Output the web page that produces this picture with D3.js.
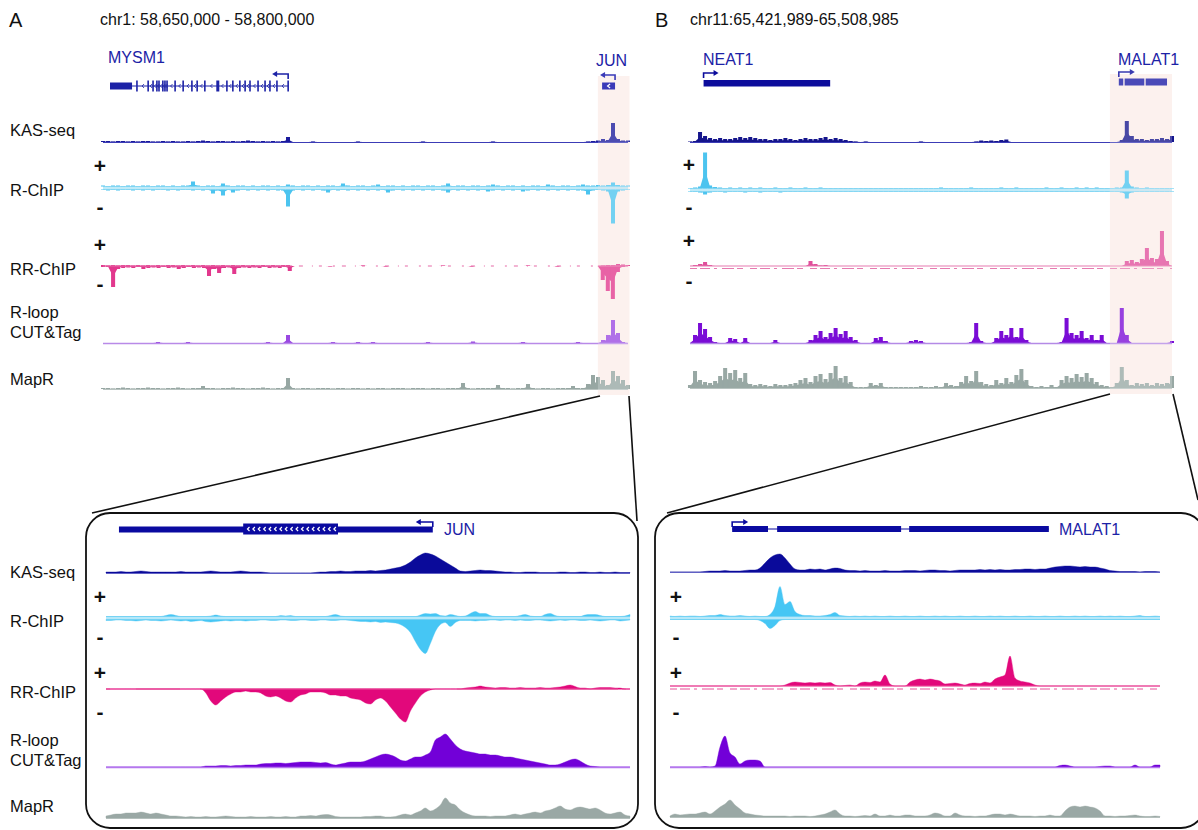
<!DOCTYPE html>
<html><head><meta charset="utf-8">
<script src="https://cdn.jsdelivr.net/npm/d3@7"></script>
<style>body{margin:0;background:#fff}svg text{font-family:"Liberation Sans",Arial,Helvetica,sans-serif}</style>
</head><body><svg id="chart"></svg>
<script>
// ===================== DATA =====================
const panelLetters = ["A","B"];
const regionLabels = ["chr1: 58,650,000 - 58,800,000","chr11:65,421,989-65,508,985"];
const trackLabels = ["KAS-seq","R-ChIP","RR-ChIP","R-loop","CUT&Tag","MapR"];
const spanA = 150, spanB = 87, spanZA = 5.5, spanZB = 13.4; // kb

// Panel A overview (chr1, 5px bins)
const kasA=[1,1,.5,1,1,.5,1,.5,1,1,.5,.5,1,.5,1,.5,.5,1,.5,1,1.5,1,.5,1,1,.5,1,.5,1,1.5,1,.5,1,.5,1,.5,1,5,0,0,0,0,.5,0,0,0,0,0,0,0,0,.5,0,0,0,0,0,0,0,0,0,0,0,0,.5,0,0,0,0,0,0,0,0,0,0,0,0,0,.5,0,0,0,0,0,0,0,0,0,0,0,0,0,0,0,0,0,0,.5,1,1.5,3,2,19,3,1.5,1.5];
const rchipA_plus=[1,.5,1,1,.5,1,1,.5,1,1,.5,1,1,.5,1,.5,1,1,5,1,.5,1,1,.5,3,1,.5,1,1,.5,1,.5,1,1,.5,1,.5,2,1,.5,1,1,.5,1,.5,1,1,.5,3,1,.5,1,1,.5,1,2,.5,1,1,.5,1,.5,1,1,.5,1,1,.5,1,3,.5,1,1,.5,1,1,.5,1,2,1,.5,1,1,.5,1,.5,1,1,.5,2,1,.5,1,1,.5,1,2,1,1,1.5,1,1.5,4,1.5,1,1];
const rchipA_minus=[.5,1,.5,1,.5,.5,1,.5,1,.5,1,.5,.5,1,.5,1,.5,.5,1,.5,1,.5,4,1,6,.5,3,1,.5,1,.5,1,.5,1,.5,1,1,17,1,.5,1,.5,1,.5,1,3,.5,1,.5,1,.5,1,.5,1,.5,1,.5,3,1,.5,1,.5,1,.5,1,.5,1,.5,1,3,.5,1,.5,1,.5,1,.5,2,1,.5,1,.5,1,.5,2,1,.5,1,.5,1,.5,1,.5,1,.5,1,1,5,1,.5,1,2,34,2,1,.5];
const rrchipA_plus=[1,.5,1,.5,1,1,.5,1,.5,1,.5,1,.5,1,1,.5,1,.5,1,.5,1,.5,1,.5,1,.5,1,.5,1,.5,1,.5,1,.5,1,.5,1,1,0,0,0,0,0,0,0,0,0,0,0,0,0,0,.5,0,0,0,0,0,0,0,0,0,0,0,0,0,0,0,.5,0,0,0,0,0,0,0,0,0,0,0,0,0,0,0,0,.5,0,0,0,0,0,0,0,0,0,0,0,0,0,0,.5,1,1,2,1.5,1];
const rrchipA_minus=[1,1,21,3,2,1.5,2,1,3,2,1.5,2,1,2,1.5,3,2,1,2,1.5,2,10,3,7,2,1.5,8,2,1.5,2,1.5,2,1,2,1.5,2,1,5,0,0,0,0,0,0,0,.5,0,0,0,0,0,0,0,0,0,0,.5,0,0,0,0,0,0,0,0,0,0,0,0,0,0,0,0,.5,0,0,0,0,0,0,0,0,0,0,0,0,0,0,0,0,.5,0,0,0,0,0,0,0,0,14,25,33,6,1,0];
const rloopA=[0,0,0,0,0,0,0,0,0,0,0,1,0,0,0,0,0,1,0,0,0,0,0,0,0,0,0,0,0,0,0,0,0,1,0,0,0,8,0,0,0,0,0,0,0,0,1,0,0,0,0,1,0,0,1,0,0,0,0,0,0,0,0,0,0,1,0,0,0,0,0,0,0,0,1.5,0,0,0,0,0,0,0,0,0,1,0,0,0,0,0,0,0,0,0,0,1,0,0,0,0,3,8,23,10,1,0];
const maprA=[1,1,.5,1,1.5,1,.5,1,1,1.5,1,1,.5,1,1,1.5,1,.5,1,1,3,1,1,.5,1,1,1.5,1,1,.5,1,1,1.5,1,.5,1,1,11,1,.5,1,1,.5,1,1,1,.5,1,1,.5,1,1,.5,1,.5,1,1,.5,1,1,1,.5,1,1,1,.5,1,1,.5,1,1,1,6,1,.5,1,1,1,1,4,1,1,.5,1,1,5,1,.5,1,1,.5,1,1,1,3,1,1,5,14,12,9,4,18,13,9,4];

// Panel B overview (chr11, 5px bins)
const kasB=[.5,1,10,6,4,3,4,3,3,4,5,4,5,4,3,3,2,3,3,4,3,2,3,4,3,3,4,5,3,4,3,2,1,.5,0,.5,0,0,0,0,0,0,0,0,0,0,.5,0,0,0,0,0,0,0,0,0,0,.5,1.5,1,1.5,1,2,2.5,0,0,0,0,0,0,0,0,0,0,0,0,0,0,0,0,0,0,0,0,0,0,2,21,6,3,3,2,3,3,4,3,6];
const rchipB_plus=[.5,1,2,36,3,1.5,1,.5,1,.5,1,.5,1,.5,1,.5,.5,1,.5,.5,1,.5,.5,1,.5,.5,1,.5,.5,.5,.5,.5,.5,.5,.5,.5,.5,.5,.5,.5,.5,.5,.5,.5,.5,.5,.5,.5,.5,.5,1,.5,.5,.5,.5,.5,1,.5,.5,.5,.5,.5,1,.5,.5,1,.5,.5,.5,.5,.5,1,.5,.5,1,.5,.5,1,.5,1,.5,1,.5,.5,.5,1,1,18,2,1,.5,1,.5,.5,.5,.5,.5];
const rchipB_minus=[.5,.5,1,3,1,.5,.5,1,.5,.5,.5,1,.5,.5,1,.5,.5,.5,1,.5,.5,.5,.5,.5,.5,.5,.5,.5,.5,.5,.5,.5,.5,.5,.5,.5,.5,.5,.5,.5,.5,.5,.5,.5,.5,.5,.5,.5,.5,.5,.5,.5,.5,.5,.5,.5,.5,.5,.5,.5,.5,.5,.5,.5,.5,.5,.5,.5,.5,.5,.5,.5,.5,.5,.5,.5,.5,.5,.5,.5,.5,.5,.5,.5,.5,.5,1,7,1,.5,.5,.5,.5,.5,.5,.5,.5];
const rrchipB_plus=[0,1,2,4,1,0,0,0,0,0,0,0,0,0,0,0,0,0,0,0,0,0,0,0,5,2,.5,1,0,0,0,0,0,0,0,0,0,0,0,0,0,0,0,0,0,0,0,0,0,0,0,0,0,0,0,0,0,0,0,0,0,0,0,0,0,0,0,0,0,0,0,0,0,0,0,0,0,0,0,0,0,0,0,0,0,0,0,5,6,4,7,18,8,7,35,5,0];
const rloopB=[0,8,20,14,6,1,0,0,5,4,0,5,0,0,0,0,0,3,0,0,0,0,0,0,3,8,12,6,10,15,9,12,6,3,0,0,0,5,6,2,0,0,0,0,2,3,2,0,0,0,0,0,0,0,0,0,1,20,2,0,0,5,12,8,15,6,15,3,0,0,0,0,0,0,1,25,10,8,12,5,8,3,8,0,0,0,35,8,0,0,0,0,0,0,0,0,2];
const maprB=[3,17,8,6,5,7,12,20,15,18,10,15,4,3,4,3,2,4,3,3,4,5,8,10,6,12,14,9,15,22,10,12,6,1,1,1,5,3,5,1,1,1,1,1,1,1,2,1,1,2,1,5,3,2,6,12,7,17,6,4,3,8,5,10,6,13,19,8,2,1,2,1,3,1,8,12,10,14,11,15,10,6,3,2,1,5,21,8,3,5,4,5,3,5,4,5,12];

// Zoom A (JUN locus)
const kasZA=[1,1,1,1.5,1,1,1.5,2,1.5,1,1,1,1,1,1,1.5,1,1,1,1,1.5,2,1.5,1,1,1,1.5,2,1.5,1,1,1,.5,0,0,0,0,0,0,0,0,0,.5,1,1,1.5,1.5,2,1.5,1.5,2,2,2,2.5,2,2.5,3,4,5,6,8,11,15,18,20,19,17,14,11,8,5,2,1.5,2,2.5,3,2.5,2.5,2,1.5,1,1,.5,.5,1,1,1,.5,.5,.5,.5,1,1,.5,.5,1,1,.5,.5,1,.5,.5,1,.5,.5,.5];
const rchipZA_plus=[0,0,0,0,0,0,0,0,0,0,0,0,1,2,1,0,0,0,0,0,0,.5,1.5,.5,0,0,0,0,0,0,0,0,0,0,0,1,.5,1,0,0,0,0,0,0,0,1,2,.5,0,0,0,0,0,0,0,0,0,0,0,0,0,0,0,1.5,3,2.5,3,1,.5,2,1,0,.5,3,5,3,3,1,0,0,0,0,0,1,2,.5,0,0,2,3,1,0,0,0,0,0,1.5,2,2,1,0,0,0,0,.5,2];
const rchipZA_minus=[1,1,.5,.5,1,1,1.5,1,.5,1,1,1.5,1,.5,1,1.5,1,2,1.5,1,2,2.5,2,1.5,1,1.5,1,1,1.5,1,1,.5,.5,1,1,.5,.5,1,1,.5,.5,1,1,.5,.5,1,1,.5,.5,1,1.5,2,2,2.5,2,3,2.5,3,3.5,5,8,13,22,30,34,24,12,5,3,7,3,1,1,1,1.5,1,1,.5,.5,1,.5,.5,1,.5,1,1,.5,.5,1,1.5,1,.5,1,.5,.5,1,1,.5,1,1.5,1,.5,.5,1.5,1,.5];
const rrchipZA_plus=[0,0,0,0,0,0,0,0,0,0,0,0,0,0,0,0,0,0,0,0,0,0,0,0,0,0,0,0,0,0,0,0,0,0,0,0,0,0,0,0,0,0,0,0,0,0,0,0,0,0,0,0,0,0,0,0,0,0,0,0,0,0,0,0,0,0,0,0,0,0,0,0,1,1.5,2,3,2,1.5,1,1.5,1.5,1,1,1.5,1,1,1,1.5,1,1,1.5,2,3,4,2.5,1,1,0,1,1.5,1.5,1.5,1,1,0,0];
const rrchipZA_minus=[0,0,0,0,0,0,0,0,0,0,0,0,0,0,0,0,0,0,0,0,4,12,16,12,8,5,3,3,2,3,3,4,7,8,7,9,12,13,9,6,5,3,3,3,4,6,6,7,7,9,10,11,14,15,11,9,12,18,24,30,33,22,14,7,3,1,0,0,0,0,0,0,0,0,0,0,0,0,0,0,0,0,0,0,0,0,0,0,0,0,0,0,0,0,0,0,0,0,0,0,0,0,0,0,0,0];
const rloopZA=[0,0,0,0,0,0,0,0,0,0,0,0,0,0,0,0,0,0,0,0,1,1,1,1.5,1.5,1,1.5,1.5,2,2,2,3,3.5,3.5,4,4,3.5,4,4.5,5,5,5,4.5,4,4.5,3,2,3,4,5,5,5,6,8,10,12,13,12,10,7,6,8,10,10,12,15,27,30,33,28,22,18,16,15,14,13,13,12,12,11,10,10,9,8,7,6,5,4,3,2,2,3,5,7,8,6,3,1,.5,0,0,0,0,0,0,0];
const maprZA=[2,3,4,4,5,5,5,6,5,4,5,4,3,2,2,1.5,1,1.5,1,1,1.5,1,1,1.5,2,1.5,1,1,1,1.5,1,1,1,1.5,1,1,1.5,1,1,2,2,2.5,2,3,3.5,3,1.5,1,1,1,1,1,1.5,1.5,2,2,1,1,1.5,3,4,3,5,7,10,7,9,13,20,15,13,8,5,3,2,2,2,1.5,2,2,2,3,4,3,4,5,6,5,7,8,10,12,9,8,10,11,10,9,10,8,5,4,5,6,3,2];

// Zoom B (MALAT1 locus)
const kasZB=[0,0,0,0,0,0,0,.5,1,1,1,1.5,1,1,1,1.5,2,2,4,9,14,17,18,14,8,3,2,2,3,2.5,3,2,3,4,3.5,2,1.5,1.5,1,1.5,1,1,1,1.5,1,1,1,1.5,1.5,1.5,1,1.5,2,2,1.5,1.5,1,1.5,2,2,2,2,2.5,2,2.5,2,2.5,2,2,2.5,2.5,3,3,2.5,3,3,4,5,5.5,6,6,5.5,5,5.5,5,5,4,3,1.5,1,.5,.5,.5,.5,0,.5,.5,.5,0];
const rchipZB_plus=[.5,0,.5,0,.5,.5,0,.5,1,1,2,1,.5,.5,1,.5,0,.5,0,0,2,10,30,12,15,5,2,1,1,.5,.5,1,2,4,1,.5,0,.5,0,.5,0,.5,0,0,.5,0,0,.5,0,0,.5,0,0,.5,0,.5,0,0,.5,0,0,.5,0,0,.5,0,.5,0,0,.5,0,0,.5,0,0,.5,0,0,.5,0,0,.5,0,.5,0,0,.5,0,.5,0,.5,0,0,.5,1,0,0,.5,0];
const rchipZB_minus=[0,0,0,0,0,0,0,0,0,0,0,0,0,0,0,0,0,0,1,4,9,6,1,0,0,0,0,0,0,0,0,0,0,0,0,0,0,0,0,0,0,0,0,0,0,0,0,0,0,0,0,0,0,0,0,0,0,0,0,0,0,0,0,0,0,0,0,0,0,0,0,0,0,0,0,0,0,0,0,0,0,0,0,0,0,0,0,0,0,0,0,0,0,0,0,0,0,0,0];
const rrchipZB_plus=[0,0,0,0,0,0,0,0,0,0,0,0,0,0,0,0,0,0,0,0,0,0,0,1,3,4,3.5,3,3.5,3,3.5,3,3.5,1,0,.5,1,0,3,4,3.5,5,4,11,2,0,0,0,4,6,7,6,7,6,5,2,2.5,3,2,1,2.5,3,2.5,4,3,7,9,11,30,8,5,4,3,1,0,0,0,0,0,0,0,0,0,0,0,0,0,0,0,0,0,0,0,0,0,0,0,0,0];
const rloopZB=[0,0,0,0,0,0,0,.5,0,1,20,31,14,10,3,6,7,7,6,0,0,0,0,0,0,0,0,0,0,0,0,0,0,0,0,0,0,0,0,0,0,0,0,0,0,0,0,0,0,0,0,0,0,0,0,0,0,0,0,0,0,0,0,0,0,0,0,0,0,0,0,0,0,0,0,0,0,0,1.5,2,1,0,0,0,0,0,.5,1,1,0,0,0,0,2,0,0,0,2,2];
const maprZB=[1,3,2,2.5,3,3,4,5,3,6,10,13,17,12,8,4,3,2,1.5,1,1,1,1,1,.5,1,1,1,.5,1,2,3,5,7,3,1,1,.5,1,1.5,1,3,1,1,2,1,1,2,2,1,1,1,2,4,3,1,1,4,2,1,1,.5,1,1,2,3,3,2,3,2,1,1,1,.5,1,1,2,1,1,6,10,11,10,11,10,9,6,1,1,.5,1,1,1.5,2,1,.5,.5,1,.5];

// Gene models (kb within each window)
const mysm1 = {label:"MYSM1", utr:[2.0,8.3], span:[2.0,52.9], exons:[9.7,12.9,14.3,15.4,16.0,17.1,17.7,18.3,20.6,22.9,25.4,26.9,29.1,32.6,35.4,37.1,39.1,40.6,42.0,44.3,46.3,47.7,49.7,52.9]};
const junTop = {label:"JUN", block:[142.6,146.3]};
const neat1 = {label:"NEAT1", block:[2.45,25.3]};
const malat1Top = {label:"MALAT1", blocks:[[77.4,78.2],[78.45,82.0],[82.25,86.1]]};
const junZoom = {label:"JUN", utr:[0.136,3.43], cds:[1.44,2.435]};
const malat1Zoom = {label:"MALAT1", blocks:[[1.70,2.68],[2.93,6.32],[6.54,10.36]]};
const highlightA = [141.4,150.4], highlightB = [75.8,87];
const rrGapA = [53.4,141.4];

// ===================== DRAWING =====================
const svg = d3.select("#chart").attr("width",1198).attr("height",830);
const geneCol = "#1c22a6";

function txt(x,y,s,size,col,anchor,weight){
  return svg.append("text").attr("x",x).attr("y",y).text(s).attr("font-size",size)
    .attr("fill",col||"#111").attr("text-anchor",anchor||"start").attr("font-weight",weight||"normal");
}
const ySig = d3.scaleLinear().domain([0,40]).range([0,40]);

// overview tracks: each bin is drawn as a narrow bar (bigwig style); zoom tracks: smooth area
function drawTrack(g, xs, span, vals, base, dir, color, mode){
  const n = vals.length, step = span/(n-1);
  if(mode==="bars"){
    const bw = Math.abs(xs(step)-xs(0));
    const area = d3.area().x((d,i)=>xs(i*step)).y0(base).y1(d=>base-dir*ySig(d)*0.5).curve(d3.curveLinear);
    g.append("path").datum(vals).attr("d",area).attr("fill",color);
    g.append("g").selectAll("rect").data(vals).join("rect")
      .attr("x",(d,i)=>xs(i*step)-bw*0.4).attr("width",bw*0.8)
      .attr("y",d=>dir>0?base-ySig(d):base).attr("height",d=>ySig(d))
      .attr("fill",color);
  } else {
    const area = d3.area().x((d,i)=>xs(i*step)).y0(base).y1(d=>base-dir*ySig(d)).curve(d3.curveMonotoneX);
    g.append("path").datum(vals).attr("d",area).attr("fill",color).attr("stroke",color).attr("stroke-width",0.4);
  }
}
function hline(g,x0,x1,y,col,w,dash){
  const l=g.append("line").attr("x1",x0).attr("x2",x1).attr("y1",y).attr("y2",y).attr("stroke",col).attr("stroke-width",w||1);
  if(dash) l.attr("stroke-dasharray",dash);
  return l;
}
function arrow(g,x,y0,len,dir,col){
  const yt=y0-5, tip=x+dir*len;
  g.append("path").attr("d",`M${x},${y0}V${yt}H${tip-dir*2}`).attr("fill","none").attr("stroke",col).attr("stroke-width",1.6);
  g.append("path").attr("d",`M${tip},${yt}L${tip-dir*5},${yt-3}L${tip-dir*5},${yt+3}Z`).attr("fill",col);
}

function panel(cfg){
  const g = svg.append("g");
  const xs = d3.scaleLinear().domain([0,cfg.span]).range([cfg.x0,cfg.x1]);
  const c = cfg.col, b = cfg.base, m = cfg.mode;
  if(cfg.hl){ g.append("rect").attr("x",xs(cfg.hl[0])).attr("y",cfg.hlY[0]).attr("width",xs(cfg.hl[1])-xs(cfg.hl[0])).attr("height",cfg.hlY[1]-cfg.hlY[0]).attr("fill","#fcede9"); }
  drawTrack(g,xs,cfg.span,cfg.kas,b[0],1,c.kas,m);
  hline(g,cfg.x0,cfg.x1,b[0]+0.5,c.kasB,1);
  drawTrack(g,xs,cfg.span,cfg.rcP,b[1]-1.5,1,c.rc,m);
  drawTrack(g,xs,cfg.span,cfg.rcM,b[1]+1.5,-1,c.rc,m);
  hline(g,cfg.x0,cfg.x1,b[1]-1.2,c.rcB,1.2); hline(g,cfg.x0,cfg.x1,b[1]+1.2,c.rcB,1.2);
  if(cfg.rrP) drawTrack(g,xs,cfg.span,cfg.rrP,b[2],1,c.rr,m);
  if(cfg.rrM) drawTrack(g,xs,cfg.span,cfg.rrM,b[2],-1,c.rr,m);
  if(cfg.rrGap){
    hline(g,cfg.x0,xs(cfg.rrGap[0]),b[2],c.rrB,1.2);
    hline(g,xs(cfg.rrGap[0]),xs(cfg.rrGap[1]),b[2],c.rrB,1.2,"2,7,4,9,1,6,3,11");
    hline(g,xs(cfg.rrGap[1]),cfg.x1,b[2],c.rrB,1.2);
  } else {
    hline(g,cfg.x0,cfg.x1,b[2],c.rrB,1.2, cfg.rrDash||null);
  }
  if(cfg.rrUnder) hline(g,cfg.x0,cfg.x1,b[2]+cfg.rrUnder,c.rrB,1,"7,3,10,4,3,5,12,3,6,7");
  drawTrack(g,xs,cfg.span,cfg.rl,b[3],1,c.rl,m);
  hline(g,cfg.x0,cfg.x1,b[3]+0.5,c.rlB,1.5);
  drawTrack(g,xs,cfg.span,cfg.mr,b[4],1,c.mr,m);
  hline(g,cfg.x0,cfg.x1,b[4]+0.5,c.mrB,1);
  if(cfg.hl){ g.append("rect").attr("x",xs(cfg.hl[0])).attr("y",cfg.hlY[0]).attr("width",xs(cfg.hl[1])-xs(cfg.hl[0])).attr("height",cfg.hlY[1]-cfg.hlY[0]).attr("fill","#fff").attr("opacity",0.22); }
  return {g,xs};
}

const topColsA = {kas:"#1a1a9c",kasB:"#3c3cb6",rc:"#4cc4ef",rcB:"#80d5f2",rr:"#e2388d",rrB:"#e66aa7",rl:"#9a48e2",rlB:"#b98ae8",mr:"#97a7a3",mrB:"#b8c3c0"};
const topColsB = {kas:"#15158c",kasB:"#3c3cb6",rc:"#4cc4ef",rcB:"#80d5f2",rr:"#e04f9b",rrB:"#e67ab0",rl:"#7a0cd6",rlB:"#b48ae6",mr:"#98a8a4",mrB:"#b8c3c0"};
const zoomCols = {kas:"#0a0a9a",kasB:"#6060c4",rc:"#46c6f4",rcB:"#6fd1f3",rr:"#e2087b",rrB:"#e8509a",rl:"#7200d8",rlB:"#b577ee",mr:"#9aa8a5",mrB:"#b4bfbc"};

const pA = panel({x0:103,x1:628,span:spanA,base:[142,188,266,343,389],kas:kasA,rcP:rchipA_plus,rcM:rchipA_minus,rrP:rrchipA_plus,rrM:rrchipA_minus,rl:rloopA,mr:maprA,col:topColsA,mode:"bars",hl:highlightA,hlY:[76,395],rrGap:rrGapA});
const pB = panel({x0:690,x1:1172,span:spanB,base:[142,190,266,343,388],kas:kasB,rcP:rchipB_plus,rcM:rchipB_minus,rrP:rrchipB_plus,rrM:null,rl:rloopB,mr:maprB,col:topColsB,mode:"bars",hl:highlightB,hlY:[74,394],rrUnder:2.5});
const zA = panel({x0:106,x1:630,span:spanZA,base:[573,618,689,767,818],kas:kasZA,rcP:rchipZA_plus,rcM:rchipZA_minus,rrP:rrchipZA_plus,rrM:rrchipZA_minus,rl:rloopZA,mr:maprZA,col:zoomCols,mode:"area",rrDash:"4,26,44,20,230,27,161,4"});
const zB = panel({x0:670,x1:1160,span:spanZB,base:[572,618,686,767,817],kas:kasZB,rcP:rchipZB_plus,rcM:rchipZB_minus,rrP:rrchipZB_plus,rrM:null,rl:rloopZB,mr:maprZB,col:zoomCols,mode:"area",rrUnder:3});

// ---- Gene models ----
(function(){
  const g=pA.g, xs=pA.xs, yc=86;
  g.append("rect").attr("x",xs(mysm1.utr[0])).attr("y",yc-3.5).attr("width",xs(mysm1.utr[1])-xs(mysm1.utr[0])).attr("height",7).attr("fill",geneCol);
  hline(g,xs(mysm1.utr[1]),xs(mysm1.span[1]),yc,geneCol,1);
  mysm1.exons.forEach((e,i)=>{ g.append("rect").attr("x",xs(e)-0.8).attr("y",yc-5.5).attr("width",i===13?3:1.6).attr("height",11).attr("fill",geneCol); });
  for(let k=0;k<mysm1.exons.length-1;k++){
    const m=(xs(mysm1.exons[k])+xs(mysm1.exons[k+1]))/2;
    g.append("path").attr("d",`M${m+1.5},${yc-2}L${m-0.5},${yc}L${m+1.5},${yc+2}`).attr("fill","none").attr("stroke",geneCol).attr("stroke-width",0.8);
  }
  arrow(g,xs(mysm1.span[1]),79,16,-1,geneCol);
  txt(108,63,mysm1.label,16,geneCol);
  const jx0=xs(junTop.block[0]), jx1=xs(junTop.block[1]);
  g.append("rect").attr("x",jx0).attr("y",yc-3.5).attr("width",jx1-jx0).attr("height",7).attr("fill","#3a3ab8");
  g.append("path").attr("d",`M${(jx0+jx1)/2+1.5},${yc-2}L${(jx0+jx1)/2-1},${yc}L${(jx0+jx1)/2+1.5},${yc+2}`).attr("fill","none").attr("stroke","#fff").attr("stroke-width",1.2);
  arrow(g,jx1,80,15,-1,"#3a3ab8");
  txt(596,66,junTop.label,16,geneCol);
})();
(function(){
  const g=pB.g, xs=pB.xs;
  g.append("rect").attr("x",xs(neat1.block[0])).attr("y",80).attr("width",xs(neat1.block[1])-xs(neat1.block[0])).attr("height",6.5).attr("fill","#0c0c9c");
  arrow(g,xs(neat1.block[0]),78,15,1,"#0c0c9c");
  txt(703,65,neat1.label,16,geneCol);
  malat1Top.blocks.forEach(bk=>{ g.append("rect").attr("x",xs(bk[0])).attr("y",78.5).attr("width",xs(bk[1])-xs(bk[0])).attr("height",7).attr("fill","#4a4ab8"); });
  arrow(g,xs(malat1Top.blocks[0][0]),77,16,1,"#3a3ab0");
  txt(1118,65,malat1Top.label,16,geneCol);
})();
(function(){
  const g=zA.g, xs=zA.xs;
  const zg="#0a0aa0";
  g.append("rect").attr("x",xs(junZoom.utr[0])).attr("y",526.5).attr("width",xs(junZoom.utr[1])-xs(junZoom.utr[0])).attr("height",6).attr("fill",zg);
  const c0=xs(junZoom.cds[0]), c1=xs(junZoom.cds[1]);
  g.append("rect").attr("x",c0).attr("y",523.5).attr("width",c1-c0).attr("height",11).attr("fill",zg);
  for(let x=c0+5;x<c1-3;x+=5.4){
    g.append("path").attr("d",`M${x+1.3},${527}L${x-0.7},${529}L${x+1.3},${531}`).attr("fill","none").attr("stroke","#fff").attr("stroke-width",1.2);
  }
  arrow(g,xs(junZoom.utr[1]),527,17,-1,zg);
  txt(444,535,junZoom.label,16,geneCol);
})();
(function(){
  const g=zB.g, xs=zB.xs;
  const zg="#0a0aa0";
  hline(g,xs(malat1Zoom.blocks[0][0]),xs(malat1Zoom.blocks[2][1]),529,zg,1);
  malat1Zoom.blocks.forEach(bk=>{ g.append("rect").attr("x",xs(bk[0])).attr("y",526).attr("width",xs(bk[1])-xs(bk[0])).attr("height",6).attr("fill",zg); });
  arrow(g,xs(malat1Zoom.blocks[0][0]),527,16,1,zg);
  txt(1059,535,malat1Zoom.label,16,geneCol);
})();

// ---- Zoom boxes and connector lines ----
svg.append("rect").attr("x",86).attr("y",513).attr("width",552).attr("height",315).attr("rx",24).attr("fill","none").attr("stroke","#111").attr("stroke-width",1.8);
svg.append("rect").attr("x",655).attr("y",513).attr("width",550).attr("height",315).attr("rx",24).attr("fill","none").attr("stroke","#111").attr("stroke-width",1.8);
const conn=[[600,396,92,513],[629,396,637,521],[1110,394,667,513],[1173,394,1198,500]];
conn.forEach(l=>svg.append("line").attr("x1",l[0]).attr("y1",l[1]).attr("x2",l[2]).attr("y2",l[3]).attr("stroke","#111").attr("stroke-width",1.6));

// ---- Text labels ----
txt(9,27,panelLetters[0],20,"#111");
txt(100,25,regionLabels[0],16,"#111");
txt(655,27,panelLetters[1],20,"#111");
txt(690,25,regionLabels[1],16,"#111");

const topLabY=[136,196,275,318,338,385];
const zoomLabY=[578,627,698,746,766,812];
trackLabels.forEach((t,i)=>{ txt(10,topLabY[i],t,16.5,"#111"); txt(10,zoomLabY[i],t,16.5,"#111"); });

function pm(x,yp,ym){ txt(x,yp+7,"+",21,"#111","middle","bold"); txt(x,ym+7,"-",21,"#111","middle","bold"); }
pm(100,166,207); pm(100,245,284);
pm(689,165,207); pm(689,241,281);
pm(100,597,637); pm(100,673,712);
pm(676,597,637); pm(676,673,712);
</script></body></html>
